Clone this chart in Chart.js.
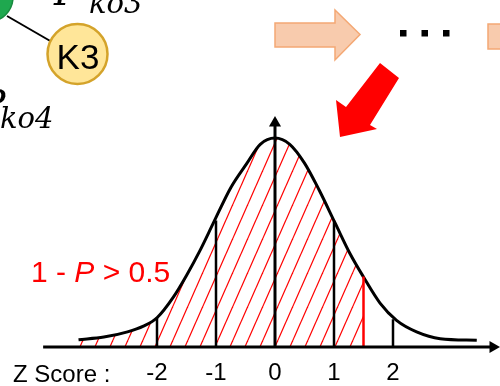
<!DOCTYPE html>
<html>
<head>
<meta charset="utf-8">
<script src="https://cdn.jsdelivr.net/npm/chart.js@4/dist/chart.umd.min.js"></script>
<style>
  html, body { margin: 0; padding: 0; background: #fff; }
  #wrap { width: 500px; height: 386px; }
</style>
</head>
<body>
<div id="wrap"><canvas id="chart" width="500" height="386"></canvas></div>
<script>
// --- datos (altura relativa, pico = 0.40) ---
const curveZ = [-3.33, -2.9, -2.5, -2.23, -2.0, -1.72, -1.5, -1.27, -1.05, -0.75, -0.48, -0.25, 0,
                0.25, 0.5, 0.75, 1.02, 1.27, 1.5, 1.78, 2.06, 2.4, 2.8, 3.42];
const curveY = [0.014, 0.019, 0.029, 0.040, 0.056, 0.096, 0.137, 0.185, 0.236, 0.305, 0.351, 0.388, 0.400,
                0.388, 0.352, 0.300, 0.237, 0.179, 0.134, 0.084, 0.051, 0.029, 0.016, 0.013];
const hatchLimit = 1.5;            // sombreado hasta z = 1.5
const tickValues = [-2, -1, 0, 1, 2];
const tickLabels = ['-2', '-1', '0', '1', '2'];
const markerZ = [-2, -1, 1, 2];     // líneas negras verticales
const markerTop = [0.057, 0.242, 0.242, 0.053];
const centerTop = 0.4287;           // eje vertical con flecha
const redLineZ = 1.5;
const redLineTop = 0.135;
const axisFrom = -3.93, axisTo = 3.695;

const pts = (xs, ys) => xs.map((x, i) => ({ x, y: ys[i] }));

// patrón rayado rojo
function hatchPattern(ctx) {
  const w = 15, h = 34;
  const c = document.createElement('canvas');
  c.width = w; c.height = h;
  const g = c.getContext('2d');
  g.strokeStyle = '#ff0000';
  g.lineWidth = 1.2;
  for (let k = -1; k <= 1; k++) {
    g.beginPath();
    g.moveTo(k * w, h);
    g.lineTo(k * w + w, 0);
    g.stroke();
  }
  const p = ctx.createPattern(c, 'repeat');
  p.setTransform(new DOMMatrix().translate(-7, 0));
  return p;
}

const canvas = document.getElementById('chart');
const ctx = canvas.getContext('2d');

const hatchIdx = curveZ.map((z, i) => i).filter(i => curveZ[i] <= hatchLimit);

// --- decoraciones fuera del gráfico ---
function arrowPeach(g, x0, yTop, yBot, xHead, hTop, hBot, xTip, yTip) {
  g.beginPath();
  g.moveTo(x0, yTop);
  g.lineTo(xHead, yTop);
  g.lineTo(xHead, hTop);
  g.lineTo(xTip, yTip);
  g.lineTo(xHead, hBot);
  g.lineTo(xHead, yBot);
  g.lineTo(x0, yBot);
  g.closePath();
  g.fillStyle = '#f8cbad';
  g.fill();
  g.strokeStyle = '#f4a874';
  g.lineWidth = 1.5;
  g.stroke();
}

const decor = {
  id: 'decor',
  beforeDraw(chart) {
    const g = chart.ctx;
    g.save();
    g.fillStyle = '#fff';
    g.fillRect(0, 0, chart.width, chart.height);
    g.restore();
  },
  afterDraw(chart) {
    const g = chart.ctx;
    g.save();

    // nodos
    g.strokeStyle = '#000'; g.lineWidth = 2;
    g.beginPath(); g.moveTo(7, 16); g.lineTo(52, 42); g.stroke();
    g.beginPath(); g.arc(-12, -3, 25, 0, Math.PI * 2);
    g.fillStyle = '#1fa84f'; g.fill();
    g.strokeStyle = '#178a3e'; g.lineWidth = 1.5; g.stroke();
    g.beginPath(); g.arc(77.5, 54, 30, 0, Math.PI * 2);
    g.fillStyle = '#ffe699'; g.fill();
    g.strokeStyle = '#d4a32a'; g.lineWidth = 2.5; g.stroke();
    g.fillStyle = '#000';
    g.font = '35px "Liberation Sans", Arial, sans-serif';
    g.textAlign = 'center'; g.textBaseline = 'alphabetic';
    g.fillText('K3', 78, 69);

    // P_ko3 / P_ko4
    g.textAlign = 'left';
    g.font = 'italic 38px "DejaVu Serif", serif';
    g.fillText('P', 54, 5);
    g.fillText('P', -20, 116);
    g.font = 'italic 29px "DejaVu Serif", serif';
    g.fillText('ko3', 89, 13);
    g.fillText('ko4', 0, 128);

    // flechas
    arrowPeach(g, 275, 23, 47, 335, 10, 60, 360, 34.5);
    arrowPeach(g, 488, 24, 49, 548, 11, 62, 573, 36);
    g.fillStyle = '#000';
    [400, 421.5, 443].forEach(x => g.fillRect(x, 30, 6.5, 6.5));

    g.beginPath();
    g.moveTo(380, 63); g.lineTo(399, 78); g.lineTo(370, 125); g.lineTo(377, 129);
    g.lineTo(340, 137); g.lineTo(336, 100); g.lineTo(346, 107);
    g.closePath();
    g.fillStyle = '#ff0000'; g.fill();

    // textos
    g.fillStyle = '#ff0000';
    const f = '30px "Liberation Sans", Arial, sans-serif';
    g.font = f;
    let x = 31;
    g.fillText('1 - ', x, 282); x += g.measureText('1 - ').width;
    g.font = 'italic ' + f;
    g.fillText('P', x, 282); x += g.measureText('P').width;
    g.font = f;
    g.fillText(' > 0.5', x, 282);

    g.fillStyle = '#000';
    g.font = '24px "Liberation Sans", Arial, sans-serif';
    g.fillText('Z Score :', 13, 381.5);
    g.restore();
  }
};

new Chart(ctx, {
  type: 'line',
  data: {
    datasets: [
      { // eje x con flecha
        data: [{ x: axisFrom, y: 0 }, { x: axisTo, y: 0 }],
        borderColor: '#000', borderWidth: 3,
        pointRadius: [0, 7], pointStyle: 'triangle', pointRotation: [0, 90],
        pointBackgroundColor: '#000', pointBorderWidth: 0,
        clip: false, order: 1
      },
      { // eje vertical en z = 0
        data: [{ x: 0, y: 0 }, { x: 0, y: centerTop }],
        borderColor: '#000', borderWidth: 3,
        pointRadius: [0, 7], pointStyle: 'triangle',
        pointBackgroundColor: '#000', pointBorderWidth: 0,
        clip: false, order: 1
      },
      ...markerZ.map((z, i) => ({
        data: [{ x: z, y: 0 }, { x: z, y: markerTop[i] }],
        borderColor: '#000', borderWidth: 2.5, pointRadius: 0, order: 2
      })),
      {
        data: [{ x: redLineZ, y: 0 }, { x: redLineZ, y: redLineTop }],
        borderColor: '#ff0000', borderWidth: 2.5, pointRadius: 0, order: 2
      },
      { // curva
        data: pts(curveZ, curveY),
        borderColor: '#000', borderWidth: 3, pointRadius: 0,
        cubicInterpolationMode: 'monotone', fill: false, order: 4
      },
      { // área rayada
        data: hatchIdx.map(i => ({ x: curveZ[i], y: curveY[i] })),
        borderWidth: 0, borderColor: 'rgba(0,0,0,0)', pointRadius: 0,
        cubicInterpolationMode: 'monotone',
        fill: 'origin', backgroundColor: hatchPattern(ctx), order: 5
      }
    ]
  },
  options: {
    responsive: false,
    animation: false,
    events: [],
    layout: { autoPadding: false, padding: { left: 39, right: 0.8, top: 114.5, bottom: 0 } },
    plugins: { legend: { display: false }, tooltip: { enabled: false } },
    scales: {
      x: {
        type: 'linear', min: -4, max: 3.8,
        afterBuildTicks: s => { s.ticks = tickValues.map(v => ({ value: v })); },
        afterFit: s => { s.height = 39; },
        grid: { display: false, drawTicks: false },
        border: { display: false },
        ticks: {
          color: '#000', padding: 14, maxRotation: 0, autoSkip: false,
          font: { family: '"Liberation Sans", Arial, sans-serif', size: 24, lineHeight: 1 },
          callback: v => tickLabels[tickValues.indexOf(v)]
        }
      },
      y: { display: false, min: 0, max: 0.445 }
    }
  },
  plugins: [decor]
});
</script>
</body>
</html>
